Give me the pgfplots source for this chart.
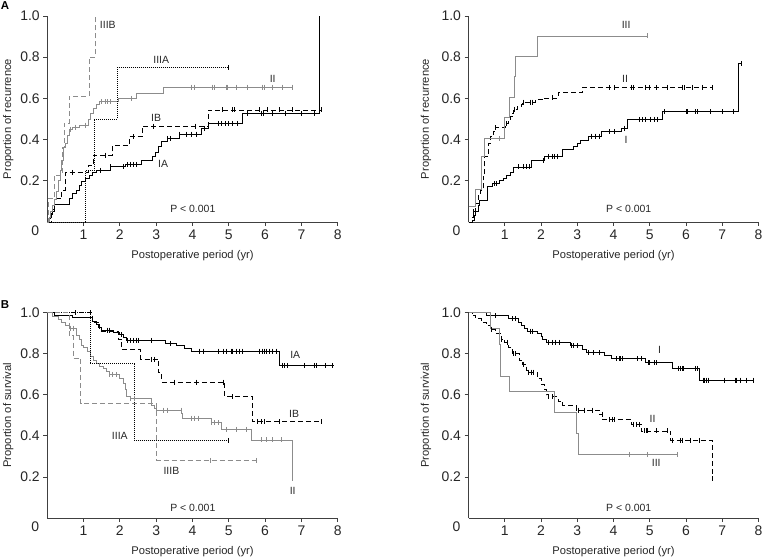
\documentclass[border=0pt]{standalone}
\usepackage{fontspec}
\setmainfont{Liberation Sans}
\usepackage{pgfplots}
\pgfplotsset{compat=1.18}
\definecolor{axgray}{gray}{0.25}
\definecolor{crvgray}{gray}{0.55}

\tikzset{
  clab/.style={font=\fontsize{10.5}{12}\selectfont, text=black!85},
  pval/.style={font=\fontsize{10.5}{12}\selectfont, text=black!85},
}
\pgfplotsset{
  km/.style={
    scale only axis, anchor=south west,
    xmin=0, xmax=8, ymin=0, ymax=1,
    axis x line*=bottom, axis y line*=left,
    axis line style={axgray, line width=0.8bp},
    tick style={axgray, line width=0.8bp},
    tick align=outside, major tick length=4bp,
    xtick={1,2,3,4,5,6,7,8}, ytick={0.2,0.4,0.6,0.8,1.0},
    extra x ticks={0},
    extra x tick style={major tick length=0pt, xticklabel style={xshift=-12bp}},
    yticklabel style={/pgf/number format/.cd, fixed, fixed zerofill, precision=1},
    /pgf/number format/assume math mode=true,
    tick label style={font=\fontsize{14}{16}\selectfont, text=black!85},
    label style={font=\fontsize{11.2}{14}\selectfont, text=black!85},
    xlabel={Postoperative period (yr)},
    clip=false,
  },
  kmleft/.style={km, width=290.5bp,
    ylabel style={at={(axis description cs:-0.134,0.5)}, anchor=center}},
  kmright/.style={km, width=290bp,
    ylabel style={at={(axis description cs:-0.147,0.5)}, anchor=center}},
  kmtop/.style={height=206bp,
    xlabel style={at={(axis description cs:0.5,-0.164)}, anchor=center}},
  kmbot/.style={height=205.3bp,
    xlabel style={at={(axis description cs:0.5,-0.164)}, anchor=center}},
  bsolid/.style={black, line width=0.8bp, const plot, no marks},
  bdash/.style={black, line width=0.8bp, const plot, no marks, dash pattern=on 5bp off 3bp},
  gsolid/.style={crvgray, line width=0.8bp, const plot, no marks},
  gdash/.style={crvgray, line width=0.8bp, const plot, no marks, dash pattern=on 5bp off 3bp},
  bdot/.style={black, line width=0.7bp, const plot, no marks, dash pattern=on 1bp off 1bp},
  bcens/.style={black, only marks, mark=|, mark size=2.5bp, mark options={line width=0.7bp}},
  gcens/.style={crvgray, only marks, mark=|, mark size=2.5bp, mark options={line width=0.7bp}},
}

\begin{document}
\begin{tikzpicture}
\useasboundingbox (0bp,0bp) rectangle (762bp,559bp);

\node[font=\bfseries\fontsize{11.5}{13}\selectfont] at (5bp,553bp) {A};
\node[font=\bfseries\fontsize{11.5}{13}\selectfont] at (5bp,254bp) {B};

% ---------- A left: recurrence by stage ----------
\begin{axis}[kmleft, kmtop, at={(47.2bp,337bp)}, ylabel={Proportion of recurrence}]
% IA
\addplot[bsolid] coordinates {(0,0) (0.05,0.017) (0.1,0.035) (0.15,0.06) (0.2,0.085) (0.6,0.115) (0.7,0.14) (0.8,0.155) (0.9,0.18) (0.95,0.195) (1.05,0.212) (1.15,0.228) (1.25,0.241) (1.35,0.25) (1.74,0.268) (2.15,0.28) (2.6,0.30) (2.9,0.316) (2.98,0.34) (3.07,0.365) (3.15,0.39) (3.3,0.406) (3.65,0.426) (4.24,0.455) (4.45,0.479) (5.38,0.528) (7.49,0.528) (7.49,1.0)};
\addplot[bcens] coordinates {(1.47,0.25) (1.74,0.268) (2.11,0.268) (2.2,0.28) (2.28,0.28) (2.36,0.28) (2.45,0.28) (3.3,0.406) (3.38,0.406) (3.65,0.426) (3.83,0.426) (3.97,0.426) (4.1,0.426) (4.33,0.455) (4.7,0.479) (4.8,0.479) (4.9,0.479) (5.0,0.479) (5.1,0.479) (5.25,0.479) (5.5,0.528) (5.9,0.528) (5.95,0.528) (6.2,0.528) (6.55,0.528) (7.0,0.528) (7.35,0.528)};
% IB
\addplot[bdash] coordinates {(0,0) (0.12,0.05) (0.2,0.115) (0.4,0.155) (0.5,0.241) (1.13,0.275) (1.27,0.325) (1.8,0.37) (2.25,0.415) (2.62,0.465) (4.43,0.544) (7.54,0.544)};
\addplot[bcens] coordinates {(0.7,0.241) (1.6,0.325) (2.38,0.415) (2.91,0.465) (4.09,0.465) (4.83,0.544) (5.1,0.544) (5.15,0.544) (5.85,0.544) (6.05,0.544) (6.4,0.544) (6.75,0.544) (7.54,0.544)};
% II
\addplot[gsolid] coordinates {(0,0) (0.05,0.02) (0.1,0.05) (0.15,0.08) (0.2,0.11) (0.25,0.15) (0.3,0.2) (0.35,0.25) (0.4,0.3) (0.45,0.36) (0.5,0.38) (0.55,0.42) (0.6,0.45) (0.7,0.46) (0.9,0.47) (1.13,0.5) (1.18,0.527) (1.27,0.55) (1.36,0.57) (1.45,0.584) (1.96,0.60) (2.46,0.625) (3.19,0.655) (6.76,0.655)};
\addplot[gcens] coordinates {(0.65,0.45) (0.78,0.46) (1.04,0.47) (1.5,0.584) (1.6,0.584) (1.65,0.584) (1.73,0.584) (2.31,0.60) (3.97,0.655) (4.06,0.655) (4.56,0.655) (4.61,0.655) (4.93,0.655) (4.97,0.655) (5.2,0.655) (5.52,0.655) (5.93,0.655) (5.98,0.655) (6.21,0.655) (6.48,0.655) (6.76,0.655)};
% IIIA
\addplot[bdot] coordinates {(0,0) (1.05,0.25) (1.3,0.5) (1.93,0.75) (4.99,0.75)};
\addplot[bcens] coordinates {(4.99,0.75)};
% IIIB
\addplot[gdash] coordinates {(0,0) (0.02,0.115) (0.2,0.228) (0.41,0.36) (0.46,0.48) (0.6,0.612) (1.15,0.80) (1.33,1.0)};
\node[clab] at (axis cs:1.67,0.956) {IIIB};
\node[clab] at (axis cs:3.14,0.786) {IIIA};
\node[clab] at (axis cs:6.21,0.693) {II};
\node[clab] at (axis cs:3.0,0.503) {IB};
\node[clab] at (axis cs:3.19,0.28) {IA};
\node[pval] at (axis cs:4.01,0.062) {P < 0.001};
\end{axis}

% ---------- A right: recurrence by I/II/III ----------
\begin{axis}[kmright, kmtop, at={(468.5bp,337bp)}, ylabel={Proportion of recurrence}]
% I
\addplot[bsolid] coordinates {(0,0) (0.1,0.01) (0.15,0.03) (0.2,0.05) (0.27,0.08) (0.3,0.107) (0.53,0.171) (0.65,0.187) (0.85,0.203) (0.95,0.214) (1.05,0.227) (1.15,0.243) (1.25,0.267) (1.73,0.298) (2.08,0.318) (2.6,0.35) (2.9,0.365) (3.0,0.38) (3.1,0.398) (3.3,0.417) (3.66,0.438) (4.21,0.456) (4.39,0.498) (5.35,0.535) (7.45,0.535) (7.45,0.77) (7.52,0.77)};
\addplot[bcens] coordinates {(0.71,0.187) (0.76,0.187) (1.37,0.267) (1.5,0.267) (1.6,0.267) (1.69,0.267) (2.07,0.298) (2.2,0.318) (2.3,0.318) (2.38,0.318) (2.45,0.318) (3.38,0.417) (3.5,0.417) (3.61,0.417) (3.89,0.438) (4.03,0.438) (4.3,0.456) (4.71,0.498) (4.8,0.498) (4.89,0.498) (5.03,0.498) (5.12,0.498) (5.22,0.498) (5.4,0.535) (6.0,0.535) (6.04,0.535) (6.27,0.535) (6.31,0.535) (6.68,0.535) (7.0,0.535) (7.32,0.535) (7.52,0.77)};
% II
\addplot[bdash] coordinates {(0,0) (0.1,0.02) (0.13,0.05) (0.2,0.09) (0.27,0.13) (0.33,0.155) (0.4,0.22) (0.45,0.317) (0.55,0.382) (0.6,0.414) (0.68,0.438) (0.75,0.458) (1.02,0.479) (1.1,0.495) (1.15,0.512) (1.2,0.528) (1.25,0.547) (1.35,0.56) (1.45,0.573) (1.5,0.582) (1.85,0.595) (2.1,0.602) (2.47,0.628) (3.15,0.654) (6.74,0.654)};
\addplot[bcens] coordinates {(0.13,0.05) (0.75,0.458) (1.05,0.479) (1.27,0.547) (1.5,0.582) (1.7,0.582) (1.75,0.582) (2.3,0.602) (3.89,0.654) (4.02,0.654) (4.5,0.654) (4.55,0.654) (4.89,0.654) (4.98,0.654) (5.17,0.654) (5.49,0.654) (5.9,0.654) (5.95,0.654) (6.17,0.654) (6.45,0.654) (6.74,0.654)};
% III
\addplot[gsolid] coordinates {(0,0.074) (0.18,0.159) (0.36,0.32) (0.43,0.406) (1.0,0.508) (1.12,0.605) (1.26,0.705) (1.3,0.802) (1.9,0.903) (4.94,0.903)};
\addplot[gcens] coordinates {(0.86,0.406) (4.94,0.903)};
\node[clab] at (axis cs:4.35,0.956) {III};
\node[clab] at (axis cs:4.32,0.693) {II};
\node[clab] at (axis cs:4.35,0.398) {I};
\node[pval] at (axis cs:4.42,0.062) {P < 0.001};
\end{axis}

% ---------- B left: survival by stage ----------
\begin{axis}[kmleft, kmbot, at={(47.2bp,41bp)}, ylabel={Proportion of survival}]
% IA
\addplot[bsolid] coordinates {(0,1) (0.19,0.987) (0.69,0.975) (1.25,0.96) (1.35,0.943) (1.4,0.927) (1.5,0.915) (1.83,0.905) (2.0,0.893) (2.1,0.878) (2.18,0.865) (3.25,0.85) (3.57,0.84) (3.77,0.828) (3.97,0.813) (6.39,0.744) (7.9,0.744)};
\addplot[bcens] coordinates {(1.65,0.915) (1.7,0.915) (2.03,0.893) (2.2,0.865) (2.28,0.865) (2.37,0.865) (2.45,0.865) (2.5,0.865) (2.86,0.865) (3.4,0.85) (4.2,0.813) (4.29,0.813) (4.7,0.813) (4.84,0.813) (4.93,0.813) (5.07,0.813) (5.11,0.813) (5.2,0.813) (5.29,0.813) (5.38,0.813) (5.84,0.813) (5.93,0.813) (5.98,0.813) (6.03,0.813) (6.12,0.813) (6.21,0.813) (6.3,0.813) (6.48,0.744) (6.53,0.744) (6.62,0.744) (7.08,0.744) (7.35,0.744) (7.4,0.744) (7.67,0.744) (7.86,0.744)};
% IB
\addplot[bdash] coordinates {(0,1) (1.24,0.955) (1.45,0.91) (1.96,0.87) (2.05,0.82) (2.57,0.773) (3.07,0.708) (3.15,0.662) (4.88,0.591) (5.66,0.469) (7.54,0.469)};
\addplot[bcens] coordinates {(0.78,1) (1.19,1) (2.86,0.773) (2.95,0.773) (3.5,0.662) (4.1,0.662) (4.84,0.662) (5.11,0.591) (5.8,0.469) (5.89,0.469) (5.98,0.469) (6.39,0.469) (7.54,0.469)};
% II
\addplot[gsolid] coordinates {(0,1) (0.15,0.98) (0.3,0.965) (0.4,0.953) (0.5,0.94) (0.6,0.925) (0.8,0.89) (0.9,0.87) (0.95,0.84) (1.0,0.83) (1.1,0.81) (1.18,0.786) (1.27,0.77) (1.36,0.753) (1.45,0.74) (1.55,0.73) (1.64,0.713) (1.7,0.70) (1.99,0.68) (2.1,0.656) (2.14,0.625) (2.19,0.59) (2.28,0.584) (2.87,0.55) (2.96,0.535) (3.0,0.525) (3.7,0.51) (3.73,0.486) (4.52,0.464) (4.79,0.432) (5.62,0.38) (6.74,0.38) (6.74,0.191)};
\addplot[gcens] coordinates {(0.63,0.925) (0.72,0.925) (1.72,0.70) (1.8,0.70) (1.9,0.70) (2.3,0.584) (2.4,0.584) (3.2,0.525) (3.3,0.525) (3.7,0.525) (3.97,0.486) (4.05,0.486) (4.15,0.486) (4.52,0.464) (4.6,0.464) (4.7,0.464) (4.93,0.432) (5.2,0.432) (5.48,0.432) (5.89,0.38) (6.03,0.38) (6.21,0.38) (6.44,0.38) (6.74,0.191)};
% IIIA
\addplot[bdot] coordinates {(0,1) (1.18,0.752) (2.4,0.378) (4.98,0.378)};
\addplot[bcens] coordinates {(4.98,0.378)};
% IIIB
\addplot[gdash] coordinates {(0,1) (0.6,0.889) (0.72,0.778) (0.92,0.556) (3.02,0.281) (5.76,0.281)};
\addplot[gcens] coordinates {(4.5,0.281) (5.76,0.281)};
\node[clab] at (axis cs:6.83,0.794) {IA};
\node[clab] at (axis cs:6.8,0.507) {IB};
\node[clab] at (axis cs:2.0,0.40) {IIIA};
\node[clab] at (axis cs:3.42,0.23) {IIIB};
\node[clab] at (axis cs:6.76,0.131) {II};
\node[pval] at (axis cs:4.01,0.047) {P < 0.001};
\end{axis}

% ---------- B right: survival by I/II/III ----------
\begin{axis}[kmright, kmbot, at={(468.5bp,41bp)}, ylabel={Proportion of survival}]
% I
\addplot[bsolid] coordinates {(0,1) (0.5,0.985) (1.1,0.97) (1.38,0.955) (1.45,0.94) (1.55,0.925) (1.62,0.91) (1.9,0.9) (2.0,0.885) (2.05,0.872) (2.15,0.855) (2.8,0.84) (3.15,0.823) (3.25,0.805) (3.75,0.79) (3.95,0.776) (4.87,0.757) (5.62,0.729) (6.37,0.672) (7.85,0.672)};
\addplot[bcens] coordinates {(0.75,0.985) (1.2,0.97) (1.3,0.97) (1.7,0.91) (1.75,0.91) (2.2,0.855) (2.3,0.855) (2.4,0.855) (2.5,0.855) (2.85,0.84) (2.9,0.84) (3.0,0.84) (3.3,0.805) (3.45,0.805) (3.6,0.805) (4.07,0.776) (4.16,0.776) (4.2,0.776) (4.25,0.776) (4.66,0.776) (4.76,0.776) (4.96,0.757) (5.0,0.757) (5.14,0.757) (5.19,0.757) (5.8,0.729) (5.85,0.729) (5.9,0.729) (5.94,0.729) (6.26,0.729) (6.3,0.729) (6.47,0.672) (6.52,0.672) (6.56,0.672) (6.61,0.672) (7.07,0.672) (7.35,0.672) (7.4,0.672) (7.49,0.672) (7.67,0.672) (7.85,0.672)};
% II
\addplot[bdash] coordinates {(0,1) (0.1,0.985) (0.2,0.97) (0.35,0.955) (0.5,0.94) (0.6,0.92) (0.75,0.9) (0.9,0.87) (1.0,0.855) (1.1,0.83) (1.2,0.8) (1.4,0.77) (1.5,0.75) (1.6,0.72) (1.65,0.71) (1.9,0.68) (2.0,0.65) (2.1,0.625) (2.15,0.6) (2.2,0.59) (2.47,0.57) (2.6,0.55) (2.97,0.526) (3.61,0.506) (3.7,0.48) (4.48,0.456) (4.76,0.424) (5.58,0.378) (6.72,0.378) (6.72,0.191)};
\addplot[bcens] coordinates {(0.64,0.92) (0.9,0.87) (1.06,0.855) (1.23,0.8) (1.28,0.8) (1.5,0.75) (1.65,0.71) (1.72,0.71) (1.8,0.71) (2.2,0.59) (2.3,0.59) (3.03,0.526) (3.2,0.526) (3.42,0.526) (3.68,0.506) (3.88,0.48) (3.98,0.48) (4.03,0.48) (4.56,0.456) (4.64,0.456) (4.7,0.456) (4.85,0.424) (4.9,0.424) (4.94,0.424) (5.17,0.424) (5.49,0.424) (5.62,0.378) (5.85,0.378) (5.9,0.378) (6.12,0.378) (6.37,0.378) (6.72,0.191)};
% III
\addplot[gsolid] coordinates {(0,1) (0.61,0.923) (0.84,0.846) (0.89,0.692) (1.14,0.615) (2.36,0.513) (2.98,0.41) (3.03,0.31) (5.76,0.31)};
\addplot[gcens] coordinates {(4.43,0.31) (4.94,0.31) (5.76,0.31)};
\node[clab] at (axis cs:5.27,0.82) {I};
\node[clab] at (axis cs:5.08,0.485) {II};
\node[clab] at (axis cs:5.18,0.266) {III};
\node[pval] at (axis cs:4.42,0.05) {P < 0.001};
\end{axis}
\end{tikzpicture}
\end{document}
